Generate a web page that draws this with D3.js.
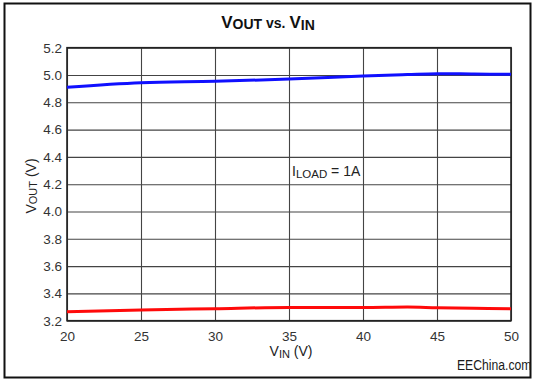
<!DOCTYPE html>
<html><head><meta charset="utf-8">
<script src="https://cdn.jsdelivr.net/npm/d3@7"></script>
<style>
html,body{margin:0;padding:0;background:#fff;}
svg{display:block;font-family:"Liberation Sans",Arial,sans-serif;}
</style></head>
<body>
<svg id="chart" width="539" height="381"></svg>
<script>
// Data
const vin = [20, 25, 30, 35, 40, 43, 45, 47.5, 50];
const vout5 = [4.910, 4.944, 4.954, 4.970, 4.992, 5.003, 5.010, 5.007, 5.005];
const vout33 = [3.266, 3.278, 3.288, 3.297, 3.296, 3.300, 3.295, 3.291, 3.288];
const xTicks = [20, 25, 30, 35, 40, 45, 50];
const yTicks = [3.2, 3.4, 3.6, 3.8, 4.0, 4.2, 4.4, 4.6, 4.8, 5.0, 5.2];

const svg = d3.select("#chart");
const W = 539, H = 381;
const L = 67, R = 511, T = 47.7, B = 320.7;

svg.append("rect").attr("x", 0).attr("y", 0).attr("width", W).attr("height", H).attr("fill", "#fff");
svg.append("rect").attr("x", 4.5).attr("y", 3.5).attr("width", 526).attr("height", 374)
  .attr("fill", "none").attr("stroke", "#111").attr("stroke-width", 2);

const x = d3.scaleLinear().domain([20, 50]).range([L, R]);
const y = d3.scaleLinear().domain([3.2, 5.2]).range([B, T]);

// grid
const gx = svg.append("g").attr("transform", `translate(0,${B})`)
  .call(d3.axisBottom(x).tickValues(xTicks).tickSize(-(B - T)).tickFormat(""));
gx.select(".domain").remove();
gx.selectAll("line").attr("stroke", "#444").attr("stroke-width", 1.1);

const gy = svg.append("g").attr("transform", `translate(${L},0)`)
  .call(d3.axisLeft(y).tickValues(yTicks).tickSize(-(R - L)).tickFormat(""));
gy.select(".domain").remove();
gy.selectAll("line").attr("stroke", "#444").attr("stroke-width", 1.1);

// tick labels via axes
const ax = svg.append("g").attr("transform", `translate(0,${B})`)
  .call(d3.axisBottom(x).tickValues(xTicks).tickSize(0).tickPadding(11).tickFormat(d3.format("d")));
ax.select(".domain").remove();
ax.selectAll("text").attr("font-size", 13.5).attr("fill", "#333")
  .attr("font-family", "'Liberation Sans',Arial,sans-serif");

const ay = svg.append("g").attr("transform", `translate(${L},0)`)
  .call(d3.axisLeft(y).tickValues(yTicks).tickSize(0).tickPadding(5).tickFormat(d3.format(".1f")));
ay.select(".domain").remove();
ay.selectAll("text").attr("font-size", 13.5).attr("fill", "#333")
  .attr("font-family", "'Liberation Sans',Arial,sans-serif");

// plot frame
svg.append("rect").attr("x", L).attr("y", T).attr("width", R - L).attr("height", B - T)
  .attr("fill", "none").attr("stroke", "#222").attr("stroke-width", 1.6);

// lines
const line = d3.line().x((d, i) => x(vin[i])).y(d => y(d)).curve(d3.curveMonotoneX);
svg.append("path").datum(vout5).attr("d", line).attr("fill", "none")
  .attr("stroke", "#1010ff").attr("stroke-width", 3);
svg.append("path").datum(vout33).attr("d", line).attr("fill", "none")
  .attr("stroke", "#ff0a0a").attr("stroke-width", 3);

// title
const title = svg.append("text").attr("x", 268).attr("y", 27.7).attr("text-anchor", "middle")
  .attr("font-weight", "bold").attr("fill", "#111");
title.append("tspan").attr("font-size", 17).text("V");
title.append("tspan").attr("font-size", 14).attr("dy", 1.3).text("OUT");
title.append("tspan").attr("font-size", 14).attr("dy", -1.3).text(" vs. ");
title.append("tspan").attr("font-size", 17).text("V");
title.append("tspan").attr("font-size", 14).attr("dy", 2).text("IN");

// y label
const yl = svg.append("text").attr("transform", "translate(35.7,186) rotate(-90)")
  .attr("text-anchor", "middle").attr("fill", "#222").attr("font-size", 14);
yl.append("tspan").text("V");
yl.append("tspan").attr("font-size", 11).attr("dy", 1.5).text("OUT");
yl.append("tspan").attr("dy", -1.5).text(" (V)");

// x label
const xl = svg.append("text").attr("x", 291).attr("y", 355.5)
  .attr("text-anchor", "middle").attr("fill", "#222").attr("font-size", 14);
xl.append("tspan").text("V");
xl.append("tspan").attr("font-size", 11).attr("dy", 2).text("IN");
xl.append("tspan").attr("dy", -2).text(" (V)");

// annotation
const an = svg.append("text").attr("x", 292).attr("y", 175.5).attr("fill", "#222").attr("font-size", 14);
an.append("tspan").text("I");
an.append("tspan").attr("font-size", 11.5).attr("dy", 2).text("LOAD");
an.append("tspan").attr("dy", -2).text(" = 1A");

// watermark
svg.append("text").attr("transform", "translate(457,370) scale(0.87,1)")
  .attr("font-size", 14).attr("fill", "#1a1a1a").text("EEChina.com");
</script>
</body></html>
